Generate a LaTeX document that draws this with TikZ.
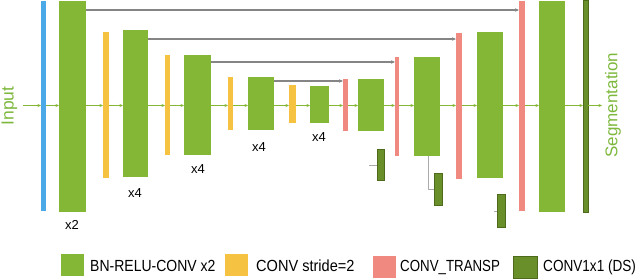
\documentclass[tikz,border=0pt]{standalone}
\usepackage{fontspec}
\setmainfont{Liberation Sans}
\usetikzlibrary{arrows.meta}
\definecolor{cgreen}{HTML}{85B737}
\definecolor{cblue}{HTML}{4AA9E6}
\definecolor{cyellow}{HTML}{F5C242}
\definecolor{cred}{HTML}{F08A80}
\definecolor{cdark}{HTML}{698F2A}
\definecolor{cdarkb}{HTML}{4E6B1C}
\definecolor{ctext}{HTML}{7DB83C}
\definecolor{cgray}{HTML}{858585}
\newcommand{\blk}[6]{%
  \pgfmathsetmacro{\bw}{#4-#2}\pgfmathsetmacro{\bh}{#5-#3}%
  \node[#6, minimum width=\bw pt, minimum height=\bh pt] (#1) at ({(#2+#4)/2},{(#3+#5)/2}) {};}
\begin{document}
\begin{tikzpicture}[x=1pt,y=-1pt,
  box/.style={inner sep=0pt, outer sep=0pt, draw=none},
  bgreen/.style={box, fill=cgreen},
  bblue/.style={box, fill=cblue},
  byellow/.style={box, fill=cyellow},
  bred/.style={box, fill=cred},
  bdark/.style={box, fill=cdark, draw=cdarkb, line width=0.8pt},
  flow/.style={draw=cgreen, line width=0.9pt, -{Stealth[length=3.5pt,width=3pt]}},
  skip/.style={draw=cgray, line width=1.1pt, -{Stealth[length=4pt,width=3.5pt]}},
  dsl/.style={draw=cgray!70, line width=0.8pt},
  mult/.style={font=\fontsize{13}{13}\selectfont, text=black, inner sep=0pt},
  side/.style={text=ctext, rotate=90, inner sep=0pt},
  legtxt/.style={font=\fontsize{14}{14}\selectfont, text=black, anchor=west, inner sep=0pt},
  legbox/.style={box, minimum width=23pt, minimum height=22pt}
]
\useasboundingbox (0,0) rectangle (640,280);
% blocks
\blk{bl}{41}{1}{46}{211}{bblue}
\blk{g1}{59}{1}{86}{212}{bgreen}
\blk{y1}{103}{32}{109}{178}{byellow}
\blk{g2}{123}{30}{148}{177}{bgreen}
\blk{y2}{165}{55}{170}{155}{byellow}
\blk{g3}{184}{55}{211}{155}{bgreen}
\blk{y3}{228}{77}{233}{130}{byellow}
\blk{g4}{248}{77}{274}{130}{bgreen}
\blk{y4}{289}{85}{296}{123}{byellow}
\blk{g5}{310}{86}{329}{123}{bgreen}
\blk{r1}{343}{79}{348}{131}{bred}
\blk{g6}{358}{79}{384}{131}{bgreen}
\blk{d1}{377}{149}{384}{180}{bdark}
\blk{r2}{395}{57}{399}{156}{bred}
\blk{g7}{414}{57}{440}{156}{bgreen}
\blk{d2}{434}{173}{442}{205}{bdark}
\blk{r3}{456}{33}{462}{179}{bred}
\blk{g8}{477}{32}{503}{178}{bgreen}
\blk{d3}{497}{194}{505}{227}{bdark}
\blk{r4}{519}{1}{525}{211}{bred}
\blk{g9}{539}{1}{565}{212}{bgreen}
\blk{d4}{583}{0}{588}{212}{bdark}
% coordinates
\coordinate (mid) at (0,105.5);
\coordinate (in) at (23,105.5);
\coordinate (out) at (602,105.5);
\coordinate (s1) at (0,10);
\coordinate (s2) at (0,39);
\coordinate (s3) at (0,62);
\coordinate (s4) at (0,81);
\coordinate (ds1) at (369,165);
\coordinate (ds2) at (428,156);
\coordinate (ds3) at (494,211);
% main flow
\draw[flow] (in) -- (bl.west |- mid);
\foreach \a/\b in {bl/g1,g1/y1,y1/g2,g2/y2,y2/g3,g3/y3,y3/g4,g4/y4,y4/g5,g5/r1,r1/g6,g6/r2,r2/g7,g7/r3,r3/g8,g8/r4,r4/g9,g9/d4}
  \draw[flow] (\a.east |- mid) -- (\b.west |- mid);
\draw[flow] (d4.east |- mid) -- (out);
% skip connections
\draw[skip] (g1.east |- s1) -- (r4.west |- s1);
\draw[skip] (g2.east |- s2) -- (r3.west |- s2);
\draw[skip] (g3.east |- s3) -- (r2.west |- s3);
\draw[skip] (g4.east |- s4) -- (r1.west |- s4);
% deep supervision
\draw[dsl] (ds1) -- (d1.west |- ds1);
\draw[dsl] (ds2) |- (d2.west);
\draw[dsl] (ds3) -- (d3.west |- ds3);
% multipliers
\node[mult] (m1) at (72,225) {x2};
\node[mult] (m2) at (135,193) {x4};
\node[mult] (m3) at (198,169) {x4};
\node[mult] (m4) at (259,147) {x4};
\node[mult] (m5) at (319,137) {x4};
% side labels
\node[side, font=\fontsize{17.5}{17.5}\selectfont] (inp) at (9.5,106) {Input};
\node[side, font=\fontsize{17}{17}\selectfont] (seg) at (613,105) {Segmentation};
% legend
\node[legbox, fill=cgreen] (lg1) at (72.5,265.5) {};
\node[legtxt] (lt1) at (90,266) {\scalebox{1}[1.15]{BN-RELU-CONV x2}};
\node[legbox, fill=cyellow] (lg2) at (236.5,265) {};
\node[legtxt] (lt2) at (256,266) {\scalebox{1.04}[1.15]{CONV stride=2}};
\node[legbox, fill=cred] (lg3) at (384.5,267) {};
\node[legtxt] (lt3) at (400,267) {\scalebox{0.95}[1.15]{CONV\_TRANSP}};
\node[legbox, fill=cdark, draw=cdarkb, line width=0.8pt, minimum width=24pt] (lg4) at (525.5,267.5) {};
\node[legtxt] (lt4) at (543,267) {\scalebox{0.97}[1.15]{CONV1x1 (DS)}};
\end{tikzpicture}
\end{document}
